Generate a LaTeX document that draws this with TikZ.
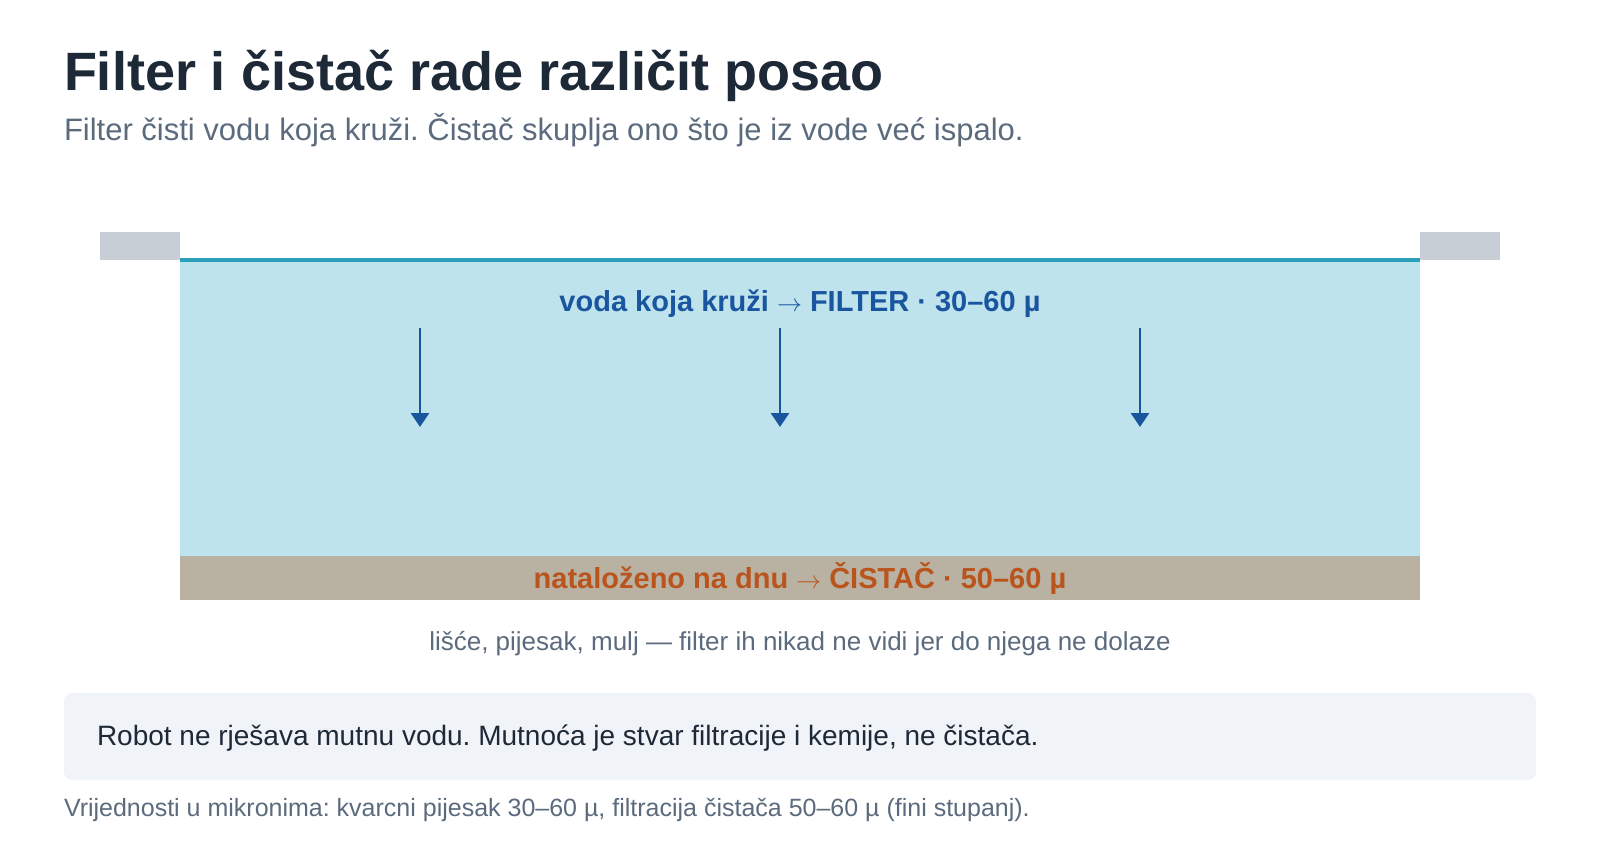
\documentclass[tikz,border=0pt]{standalone}
\usepackage{fontspec}
\setmainfont{Liberation Sans}
\usepackage{tikz}
\usetikzlibrary{arrows.meta}
\frenchspacing
\definecolor{titledark}{HTML}{1E2937}
\definecolor{subgray}{HTML}{5B6B7D}
\definecolor{deckgray}{HTML}{C8CED6}
\definecolor{waterblue}{HTML}{BEE3EC}
\definecolor{surfteal}{HTML}{2BA0BA}
\definecolor{sandtan}{HTML}{B9B1A2}
\definecolor{flowblue}{HTML}{1A55A0}
\definecolor{rustorange}{HTML}{B9541C}
\definecolor{notebg}{HTML}{F0F3F8}

\begin{document}
\begin{tikzpicture}[
		x=1pt, y=-1pt,
		every node/.style={inner sep=0pt, outer sep=0pt},
		headline/.style={anchor=base west, text=titledark,
			font=\fontsize{54}{64}\selectfont\bfseries},
		subline/.style={anchor=base west, text=subgray,
			font=\fontsize{31}{37}\selectfont},
		zonelabel/.style={anchor=base,
			font=\fontsize{29}{34}\selectfont\bfseries},
		flow/.style={color=flowblue, line width=2.8pt,
			-{Triangle[length=14pt, width=18pt]}}
	]
	\useasboundingbox (0,0) rectangle (1600,852);
	
	\node[headline] (title) at (64,90) {Filter i čistač rade različit posao};
	\node[subline] (subtitle) at (64,140)
		{Filter čisti vodu koja kruži. Čistač skuplja ono što je iz vode već ispalo.};
	
	% pool
	\fill[color=deckgray] (100,232) rectangle (180,260);
	\fill[color=deckgray] (1420,232) rectangle (1500,260);
	\fill[color=waterblue] (180,258) rectangle (1420,556);
	\fill[color=sandtan] (180,556) rectangle (1420,600);
	\draw[color=surfteal, line width=4pt] (180,260) -- (1420,260);
	
	\node[zonelabel, text=flowblue] (waterlabel)
		at (800,311) {voda koja kruži $\rightarrow$ FILTER · 30–60 µ};
	
	\foreach \i in {0,1,2}{
		\def\xpos{420+360*\i}
		\coordinate (drop\i) at (\xpos,328);
		\coordinate (tip\i) at (\xpos,427);
		\draw[flow] (drop\i) -- (tip\i);
	}
	
	\node[zonelabel, text=rustorange] (sedlabel)
		at (800,588) {nataloženo na dnu $\rightarrow$ ČISTAČ · 50–60 µ};
	
	\node[anchor=base, text=subgray, font=\fontsize{26}{31}\selectfont] (caption)
		at (800,650) {lišće, pijesak, mulj — filter ih nikad ne vidi jer do njega ne dolaze};
	
	% note
	\fill[color=notebg, rounded corners=8pt] (64,693) rectangle (1536,780);
	\node[anchor=base west, text=titledark, font=\fontsize{28}{33}\selectfont] (notetext)
		at (97,745) {Robot ne rješava mutnu vodu. Mutnoća je stvar filtracije i kemije, ne čistača.};
	
	\node[anchor=base west, text=subgray, font=\fontsize{25}{30}\selectfont] (footer)
		at (64,816) {Vrijednosti u mikronima: kvarcni pijesak 30–60 µ, filtracija čistača 50–60 µ (fini stupanj).};
\end{tikzpicture}
\end{document}
